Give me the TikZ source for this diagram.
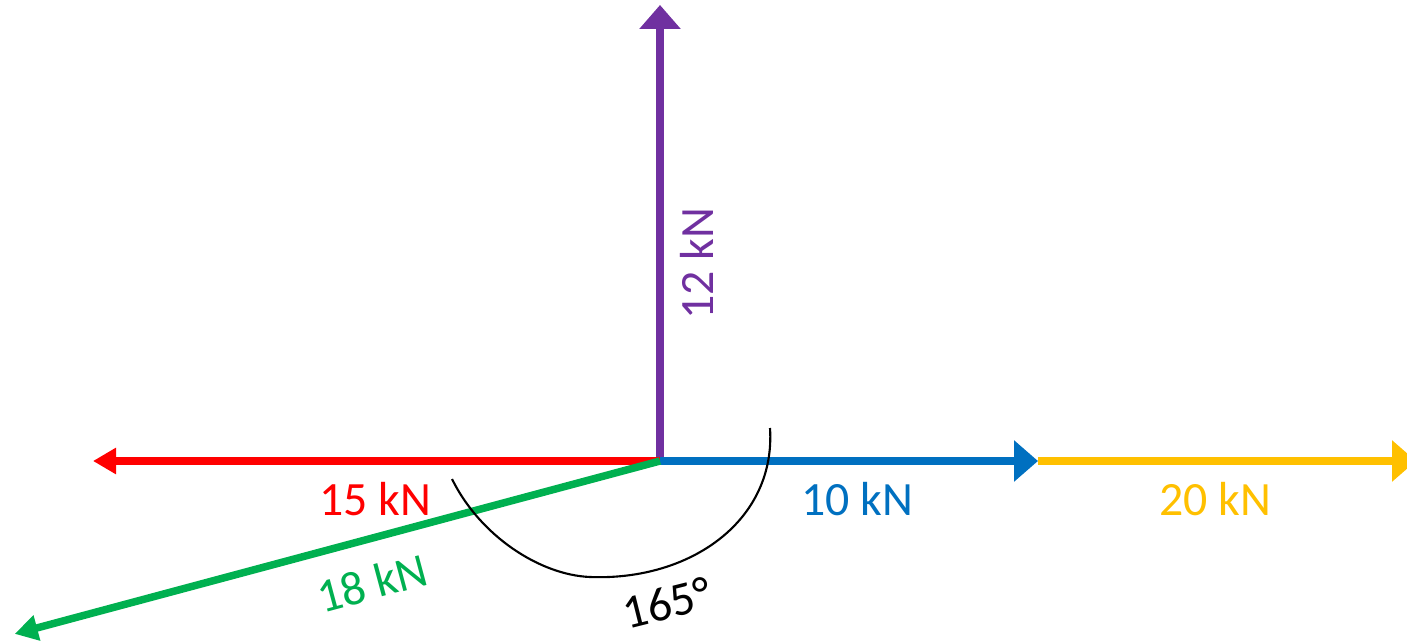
\documentclass[tikz,border=0pt]{standalone}
\usepackage{fontspec}
\setmainfont{Carlito}
\usetikzlibrary{arrows.meta,calc}

\definecolor{forcered}{HTML}{FF0000}
\definecolor{forceblue}{HTML}{0070C0}
\definecolor{forceyellow}{HTML}{FFC000}
\definecolor{forcegreen}{HTML}{00B050}
\definecolor{forcepurple}{HTML}{7030A0}

\begin{document}
\begin{tikzpicture}[
    force/.style={line width=0.075cm},
    bighead/.style={-{Triangle[length=0.24cm, width=0.40cm]}},
    smallhead/.style={-{Triangle[length=0.23cm, width=0.25cm]}},
    label/.style={font=\fontsize{13.6}{16}\selectfont, inner sep=0pt}
]
\useasboundingbox (0,0) rectangle (14.07,6.41);

\coordinate (O) at (6.60,1.80);
\coordinate (up) at (6.60,6.36);
\coordinate (left) at (0.93,1.80);
\coordinate (mid) at (10.38,1.80);
\coordinate (right) at (14.16,1.80);
\coordinate (down) at ($(O)+(195:6.68)$);

\draw[force, forcepurple, bighead] (O) -- (up);
\draw[force, forcered, smallhead] (O) -- (left);
\draw[force, forceyellow, bighead] (mid) -- (right);
\draw[force, forceblue, bighead] (O) -- (mid);
\draw[force, forcegreen, smallhead] (O) -- (down);

% angle arc
\draw[line width=0.6pt] (7.70,2.13) .. controls (7.76,1.20) and (6.90,0.60) .. (5.90,0.64)
    .. controls (5.40,0.66) and (4.80,1.05) .. (4.52,1.62);

\node[label, forcepurple, rotate=90] (f12) at (6.97,3.77) {12 kN};
\node[label, forcered] (f15) at (3.75,1.42) {15 kN};
\node[label, forceblue] (f10) at (8.57,1.42) {10 kN};
\node[label, forceyellow] (f20) at (12.15,1.42) {20 kN};
\node[label, forcegreen, rotate=15] (f18) at (3.72,0.58) {18 kN};
\node[label, rotate=14] (ang) at (6.67,0.38) {165°};

\end{tikzpicture}
\end{document}
